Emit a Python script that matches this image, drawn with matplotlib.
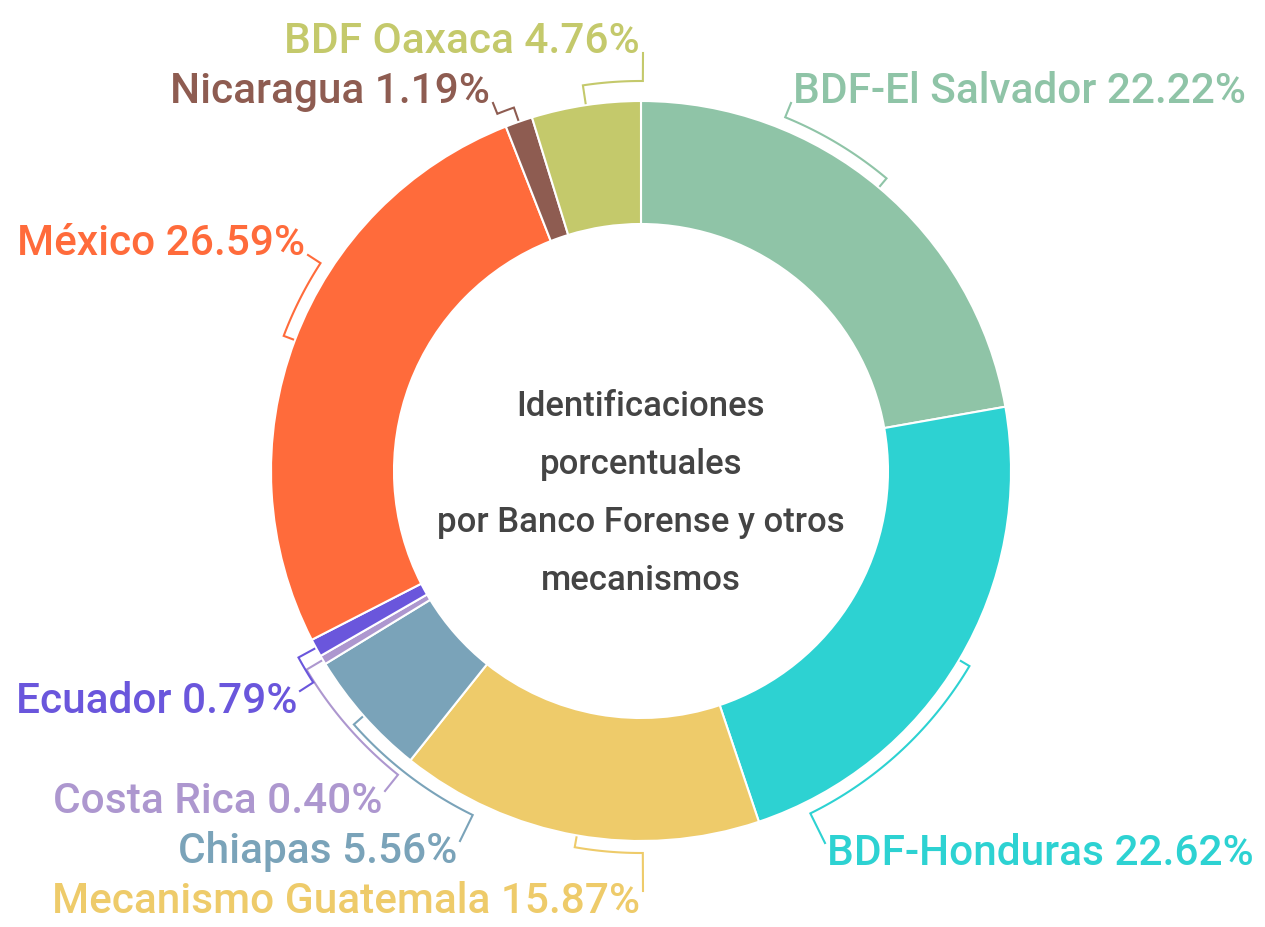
import numpy as np
import matplotlib.pyplot as plt

# data
categorias = ["BDF-El Salvador", "BDF-Honduras", "Mecanismo Guatemala", "Chiapas",
              "Costa Rica", "Ecuador", "México", "Nicaragua", "BDF Oaxaca"]
porcentajes = [22.22, 22.62, 15.87, 5.56, 0.40, 0.79, 26.59, 1.19, 4.76]
colores = ["#8fc4a7", "#2dd2d2", "#eecb6a", "#7aa3b9", "#ad97cf",
           "#6a56dc", "#ff6b3b", "#8e5c51", "#c4c96b"]
lineas_centro = ["Identificaciones", "porcentuales", "por Banco Forense y otros", "mecanismos"]

# layout, in pixels from the top-left corner
W, H = 1265, 928
cx, cy = 641, 472
r_out, r_in = 370, 247
r_tick = 372
# text edge x, baseline y, alignment
etiquetas_pos = [(793, 103, "left"), (827, 865, "left"), (640, 913, "right"),
                 (457, 863, "right"), (382, 813, "right"), (297, 713, "right"),
                 (305, 255, "right"), (490, 103, "right"), (640, 53, "right")]
# radius of the curved part of each leader line
radios_arco = [382, 382, 382, 383, 389, 390, 382, 385, 390]

plt.rcParams['font.family'] = ['Roboto', 'DejaVu Sans']

fig = plt.figure(figsize=(W / 100, H / 100), dpi=100)
ax = fig.add_axes([0, 0, 1, 1])

# y axis points down, so counterclock in data = clockwise on screen
ax.pie(porcentajes, colors=colores, startangle=-90, counterclock=True,
       radius=r_out, center=(cx, cy),
       wedgeprops=dict(width=r_out - r_in, edgecolor="white", linewidth=1.5))
ax.set_xlim(0, W)
ax.set_ylim(H, 0)
ax.set_aspect("equal")
ax.axis("off")

inicios = np.cumsum([0] + porcentajes[:-1])
for nombre, p, ini, col, (tx, ty, ha), r_arc in zip(categorias, porcentajes, inicios, colores,
                                                    etiquetas_pos, radios_arco):
    th_mid = np.radians(-90 + 3.6 * (ini + p / 2))
    # anchor point just outside the text edge
    axx = tx - 2 if ha == "left" else tx + 3
    ayy = ty + 1 if ty < cy else ty - 21
    th_a = np.arctan2(ayy - cy, axx - cx)
    d = (th_a - th_mid + np.pi) % (2 * np.pi) - np.pi
    ts = th_mid + np.linspace(0, d, 40)
    xs = [cx + r_tick * np.cos(th_mid)] + list(cx + r_arc * np.cos(ts)) + [axx]
    ys = [cy + r_tick * np.sin(th_mid)] + list(cy + r_arc * np.sin(ts)) + [ayy]
    ax.plot(xs, ys, color=col, lw=1.5, solid_joinstyle="miter")
    ax.text(tx, ty, f"{nombre} {p:.2f}%", color=col, fontsize=30.5,
            fontweight="medium", ha=ha, va="baseline")

for i, linea in enumerate(lineas_centro):
    ax.text(cx, cy - 56 + 58 * i, linea, color="#444444", fontsize=25,
            fontweight="medium", ha="center", va="baseline")

fig.savefig("out.png", dpi=100, facecolor="white")
